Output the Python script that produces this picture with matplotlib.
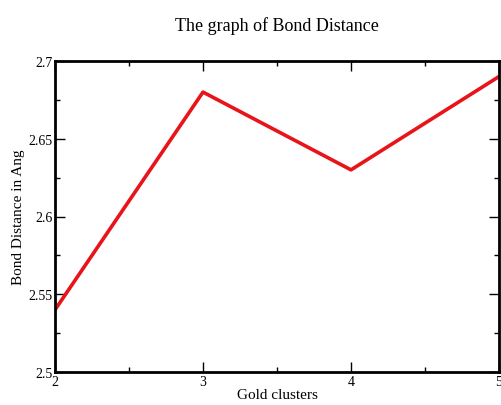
import matplotlib
matplotlib.use("Agg")
import matplotlib.pyplot as plt
from matplotlib.ticker import MultipleLocator

clusters = [2, 3, 4, 5]
bond_distance = [2.54, 2.68, 2.63, 2.69]
x_ticks = [2, 3, 4, 5]
y_ticks = [2.5, 2.55, 2.6, 2.65, 2.7]
y_tick_labels = ["2.5", "2.55", "2.6", "2.65", "2.7"]

plt.rcParams['font.family'] = ['Liberation Serif', 'DejaVu Serif']

fig = plt.figure(figsize=(5.02, 4.06), dpi=100)
ax = fig.add_axes([55/502, 1-373/406, 444/502, 311/406])
ax.plot(clusters, bond_distance, color='#e8141a', lw=2.6)
ax.set_xlim(2, 5)
ax.set_ylim(2.5, 2.7)
ax.set_xticks(x_ticks)
ax.set_xticklabels([str(t) for t in x_ticks])
ax.set_yticks(y_ticks)
ax.set_yticklabels(y_tick_labels)
ax.xaxis.set_minor_locator(MultipleLocator(0.5))
ax.yaxis.set_minor_locator(MultipleLocator(0.025))
ax.tick_params(which='both', direction='in', top=True, right=True, labelsize=10, pad=2)
ax.tick_params(which='major', length=7, width=1)
ax.tick_params(which='minor', length=3.5, width=1)
for s in ax.spines.values():
    s.set_linewidth(2)
ax.set_xlabel('Gold clusters', fontsize=11, labelpad=0)
ax.set_ylabel('Bond Distance in Ang', fontsize=11, labelpad=2)
ax.set_title('The graph of Bond Distance', fontsize=13, pad=22)
fig.savefig('out.png', dpi=100)
